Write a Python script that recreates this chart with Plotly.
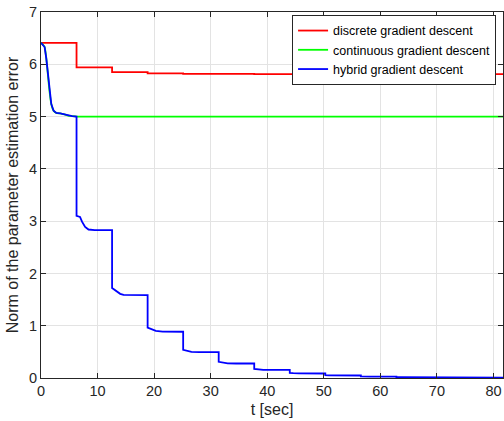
import plotly.graph_objects as go

# Jump instants (multiples of 2*pi) and end time
t_end = 81.681

# Discrete gradient descent (piecewise constant, value held over each interval)
t_red = [0, 6.283, 12.566, 18.850, 25.133, 31.416, 37.699, 43.982, 50.265,
         56.549, 62.832, 69.115, 75.398, 81.681]
v_red = [6.41, 5.94, 5.85, 5.825, 5.818, 5.815, 5.813, 5.812, 5.812,
         5.811, 5.811, 5.811, 5.811, 5.811]

# Continuous gradient descent
t_green = [0, 0.3, 0.64, 0.94, 1.23, 1.52, 1.82, 2.23, 2.7, 3.4, 4.17, 4.77,
           5.5, 6.283, 81.681]
v_green = [6.41, 6.38, 6.33, 6.11, 5.79, 5.47, 5.24, 5.11, 5.07, 5.06, 5.04,
           5.02, 5.01, 5.00, 5.00]

# Hybrid gradient descent
t_blue = [0, 0.3, 0.64, 0.94, 1.23, 1.52, 1.82, 2.23, 2.7, 3.4, 4.17, 4.77, 5.5, 6.283,
          6.283, 6.9, 7.25, 7.8, 8.4, 9.5, 12.566,
          12.566, 12.85, 13.4, 14.0, 14.6, 16.0, 18.850,
          18.850, 19.4, 20.3, 21.5, 25.133,
          25.133, 25.7, 26.6, 28.0, 31.416,
          31.416, 32.0, 33.0, 34.5, 37.699,
          37.699, 38.3, 39.3, 43.982,
          43.982, 44.6, 45.6, 50.265,
          50.265, 50.9, 51.9, 56.549,
          56.549, 57.2, 58.2, 62.832,
          62.832, 63.5, 64.5, 69.115,
          69.115, 69.8, 70.8, 75.398,
          75.398, 76.0, 77.0, 81.681]
v_blue = [6.41, 6.38, 6.33, 6.11, 5.79, 5.47, 5.24, 5.11, 5.07, 5.06, 5.04, 5.02, 5.01, 5.00,
          3.10, 3.08, 2.99, 2.89, 2.84, 2.83, 2.83,
          1.72, 1.70, 1.65, 1.61, 1.59, 1.585, 1.585,
          0.965, 0.94, 0.90, 0.887, 0.885,
          0.54, 0.525, 0.50, 0.495, 0.495,
          0.31, 0.295, 0.28, 0.277, 0.277,
          0.175, 0.165, 0.157, 0.155,
          0.098, 0.092, 0.087, 0.086,
          0.055, 0.051, 0.049, 0.048,
          0.031, 0.029, 0.027, 0.027,
          0.017, 0.016, 0.015, 0.015,
          0.0095, 0.009, 0.0085, 0.0085,
          0.0053, 0.005, 0.0048, 0.0048]

x_ticks = [0, 10, 20, 30, 40, 50, 60, 70, 80]
y_ticks = [0, 1, 2, 3, 4, 5, 6, 7]

axis_col = "#262626"
grid_col = "#e3e3e3"
font_fam = "Liberation Sans, Arial, Helvetica, sans-serif"

fig = go.Figure()
fig.add_trace(go.Scatter(x=t_red, y=v_red, mode="lines", line_shape="hv",
                         line=dict(color="#ff0000", width=1.8),
                         name="discrete gradient descent"))
fig.add_trace(go.Scatter(x=t_green, y=v_green, mode="lines", line_shape="spline",
                         line=dict(color="#00ff00", width=1.8, smoothing=0.6),
                         name="continuous gradient descent"))
fig.add_trace(go.Scatter(x=t_blue, y=v_blue, mode="lines",
                         line=dict(color="#0000ff", width=1.8),
                         name="hybrid gradient descent"))

fig.update_layout(
    width=504, height=421,
    margin=dict(l=41, r=1, t=12, b=43),
    paper_bgcolor="white", plot_bgcolor="white",
    font=dict(family=font_fam, color=axis_col, size=14.5),
    showlegend=True,
    legend=dict(x=0.985, y=0.992, xanchor="right", yanchor="top",
                bgcolor="white", bordercolor=axis_col, borderwidth=1,
                font=dict(size=12.5, color="black", family=font_fam),
                itemwidth=30, tracegroupgap=0),
)
fig.update_xaxes(
    range=[0, t_end], tickvals=x_ticks, ticktext=[str(v) for v in x_ticks],
    showgrid=True, gridcolor=grid_col, gridwidth=1,
    showline=True, linecolor=axis_col, linewidth=1, mirror="allticks",
    ticks="inside", ticklen=5, tickcolor=axis_col, zeroline=False,
    title=dict(text="t [sec]", font=dict(size=16), standoff=5),
)
fig.update_yaxes(
    range=[0, 7], tickvals=y_ticks, ticktext=[str(v) for v in y_ticks],
    showgrid=True, gridcolor=grid_col, gridwidth=1,
    showline=True, linecolor=axis_col, linewidth=1, mirror="allticks",
    ticks="inside", ticklen=5, tickcolor=axis_col, zeroline=False,
    title=dict(text="Norm of the parameter estimation error", font=dict(size=16), standoff=6),
)

fig.write_html(
    "out.html",
    config={"displayModeBar": False},
    post_script="document.body.style.margin='0';document.body.style.overflow='hidden';",
)
